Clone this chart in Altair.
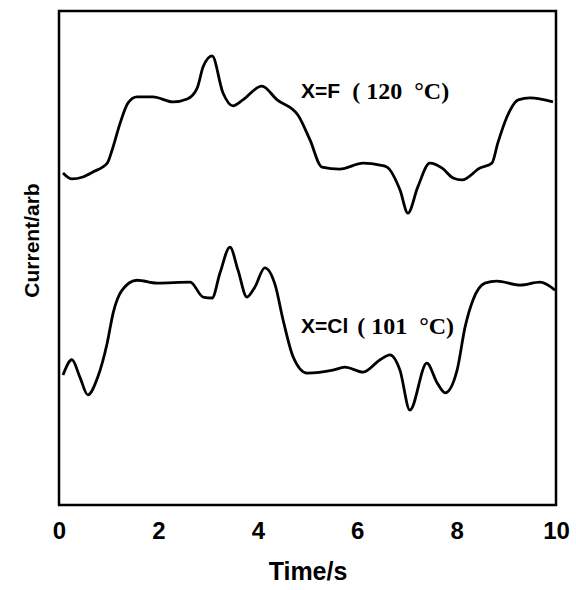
import altair as alt
import pandas as pd

# Upper trace: X=F (120 °C)
f_time = [0.08, 0.26, 0.48, 0.68, 0.97, 1.07, 1.23, 1.39, 1.57, 1.89, 2.29, 2.58,
          2.78, 2.90, 3.08, 3.30, 3.50, 3.70, 4.08, 4.39, 4.81, 5.05, 5.29, 5.65,
          6.12, 6.46, 6.60, 6.86, 7.02, 7.22, 7.46, 7.71, 7.93, 8.11, 8.47, 8.71,
          8.83, 9.01, 9.24, 9.48, 9.94]
f_curr = [67.2, 66.0, 66.4, 67.4, 69.2, 71.9, 77.3, 81.4, 82.6, 82.6, 81.6, 82.2,
          84.4, 88.7, 90.9, 83.4, 80.8, 82.0, 84.8, 82.0, 78.9, 73.9, 68.4, 68.0,
          69.2, 68.8, 68.4, 63.8, 59.1, 64.4, 69.2, 68.2, 66.2, 65.8, 68.2, 69.2,
          73.3, 78.5, 82.0, 82.4, 81.6]

# Lower trace: X=Cl (101 °C)
cl_time = [0.08, 0.26, 0.42, 0.58, 0.78, 0.97, 1.09, 1.27, 1.57, 1.97, 2.64, 2.90,
           3.08, 3.24, 3.44, 3.60, 3.78, 3.94, 4.14, 4.35, 4.51, 4.71, 4.99, 5.51,
           5.75, 6.12, 6.46, 6.66, 6.86, 7.06, 7.40, 7.61, 7.77, 8.01, 8.17, 8.33,
           8.57, 8.81, 9.28, 9.68, 9.98]
cl_curr = [26.3, 29.4, 25.9, 22.3, 25.9, 32.8, 38.9, 43.5, 45.5, 44.9, 45.1, 42.1,
           41.9, 47.0, 52.2, 47.6, 42.1, 44.1, 48.0, 44.5, 37.4, 30.0, 26.7, 27.3,
           27.9, 26.9, 29.4, 30.4, 27.3, 19.2, 28.7, 24.7, 22.7, 27.3, 36.0, 41.5,
           44.9, 45.3, 44.5, 45.1, 43.5]

# Annotations
NB = "\u00a0"
label_sans = ["X=F", "X=Cl"]
label_serif = ["(" + NB + "120" + NB * 2 + "°C)", "(" + NB + "101" + NB * 2 + "°C)"]
label_time = [4.87, 4.87]
label_serif_time = [5.9, 6.0]
label_curr = [83.6, 36.0]

x_ticks = [0, 2, 4, 6, 8, 10]

df = pd.concat([
    pd.DataFrame({"t": f_time, "c": f_curr, "s": "F"}),
    pd.DataFrame({"t": cl_time, "c": cl_curr, "s": "Cl"}),
])
lab = pd.DataFrame({"t": label_time, "t2": label_serif_time, "c": label_curr,
                    "a": label_sans, "b": label_serif})

x_enc = alt.X("t:Q", scale=alt.Scale(domain=[0, 10], nice=False),
              axis=alt.Axis(title="Time/s", values=x_ticks, ticks=False, domain=False,
                            grid=False, labelFlush=False, labelFont="Liberation Sans",
                            labelFontWeight="bold", labelFontSize=24, labelColor="black",
                            labelPadding=14, titleFont="Liberation Sans",
                            titleFontWeight="bold", titleFontSize=25, titleColor="black",
                            titlePadding=16))
y_enc = alt.Y("c:Q", scale=alt.Scale(domain=[0, 100], nice=False),
              axis=alt.Axis(title="Current/arb", labels=False, ticks=False, domain=False,
                            grid=False, titleFont="Liberation Sans", titleFontWeight="bold",
                            titleFontSize=21, titleColor="black", titlePadding=17,
                            titleY=229))

lines = alt.Chart(df).mark_line(color="black", strokeWidth=2.8, interpolate="monotone").encode(
    x=x_enc, y=y_enc, detail="s:N")

t1 = alt.Chart(lab).mark_text(align="left", baseline="middle", font="Liberation Sans",
                              fontWeight="bold", fontSize=21, color="black").encode(
    x="t:Q", y="c:Q", text="a:N")
t2 = alt.Chart(lab).mark_text(align="left", baseline="middle", font="Liberation Serif",
                              fontWeight="bold", fontSize=24, color="black").encode(
    x="t2:Q", y="c:Q", text="b:N")

chart = alt.layer(lines, t1, t2).properties(
    width=497, height=494,
    autosize=alt.AutoSizeParams(type="none"),
    padding={"left": 59, "top": 11, "right": 20, "bottom": 85},
    background="white",
).configure_view(stroke="black", strokeWidth=2.5)

chart.save("out.html", embed_options={"renderer": "svg", "actions": False})
